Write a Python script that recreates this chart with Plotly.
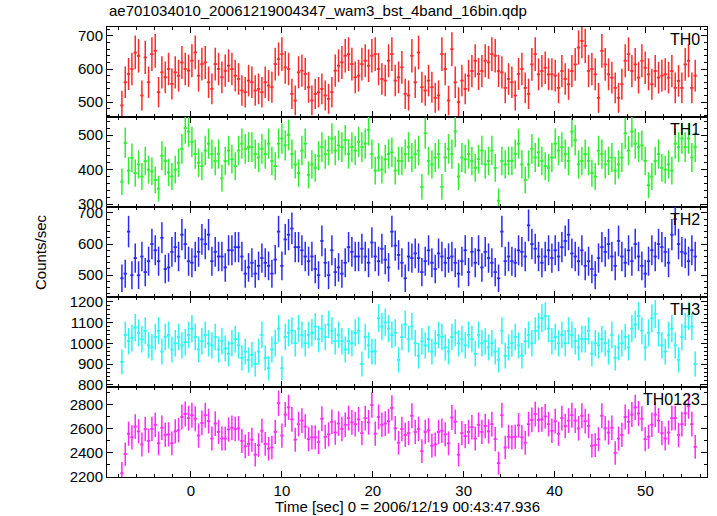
import numpy as np
import plotly.graph_objects as go
from plotly.subplots import make_subplots

# ---- data (count rate, counts/sec) ----
T_START = -7.60      # centre of first bin [s]
BIN = 0.3667         # bin width [s]

th0 = [490,560,585,600,650,640,520,635,560,645,
       655,530,590,575,600,555,590,580,620,600,
       595,625,650,580,615,620,560,540,615,600,
       575,595,610,600,580,570,535,530,565,560,
       535,540,530,560,550,545,615,630,645,605,
       600,525,505,590,595,585,545,505,525,530,
       540,520,510,530,595,610,620,640,645,615,
       575,580,615,625,610,640,645,600,570,565,
       625,645,565,575,
       605,525,520,640,560,650,545,535,565,545,
       513,520,645,600,505,660,560,500,565,540,
       580,594,625,585,594,625,620,645,640,594,
       590,543,570,560,520,585,600,543,525,614,
       645,584,594,604,584,584,580,543,594,570,
       554,594,614,665,685,670,594,600,584,513,
       655,614,584,574,543,513,554,625,645,594,
       614,574,625,604,584,554,594,574,580,584,
       574,594,543,564,543,614,625,543,580]

th1 = [365,477,397,434,390,415,380,425,400,395,
       370,345,440,425,392,380,400,420,460,520,
       510,480,445,420,410,455,475,445,425,445,
       375,425,455,430,410,455,475,460,465,465,
       445,435,460,445,475,425,410,475,490,470,
       500,445,415,390,455,475,385,415,405,440,
       465,445,455,490,455,470,465,485,445,465,
       455,480,465,475,515,445,397,435,400,430,
       445,450,397,425,
       425,445,465,435,445,455,350,505,425,415,
       435,445,350,435,460,445,510,380,435,430,
       445,425,405,430,455,415,425,455,405,310,
       425,415,425,425,445,475,415,370,415,460,
       435,450,425,410,405,435,475,455,465,445,
       425,510,485,415,425,445,425,390,380,455,
       445,415,425,435,397,415,435,505,455,510,
       475,465,470,425,355,380,425,445,405,400,
       415,397,475,465,490,465,490,435,465]

th2 = [490,505,640,500,555,500,560,510,545,600,
       580,545,620,520,525,575,590,560,630,600,
       545,540,560,575,615,600,630,545,575,560,
       560,525,580,580,590,590,560,505,525,540,
       505,530,555,540,530,505,550,640,530,615,
       630,650,590,590,580,560,545,560,520,500,
       610,540,500,580,510,525,505,540,590,575,
       560,560,585,560,540,605,560,545,585,550,
       525,640,595,565,
       540,490,560,555,570,555,510,545,580,540,
       520,570,560,540,555,560,540,505,545,580,
       510,575,540,580,525,575,555,540,510,490,
       640,545,560,545,540,580,575,560,660,600,
       585,560,540,560,580,555,580,560,590,610,
       630,570,560,545,580,530,545,520,500,555,
       590,575,600,560,530,610,560,540,580,545,
       600,560,530,505,545,580,560,600,590,575,
       540,630,680,600,575,570,545,580,560]

th3 = [910,1040,1010,1025,1075,1050,1020,1060,990,980,
       1030,1060,960,1030,1040,970,1000,1030,990,1005,
       1040,1070,1030,970,1010,1040,1000,990,1030,970,
       1010,975,950,1000,1020,990,930,960,920,945,
       900,960,1040,930,880,970,1000,1070,880,1030,
       1050,1060,1000,1070,1040,1000,1040,1050,1080,1020,
       1070,1030,1090,1060,1010,1040,1010,970,1010,1000,
       1050,1060,900,1030,990,960,960,1120,1080,1100,
       1070,1040,1050,920,
       1030,1090,1020,1080,1000,940,1010,990,1020,960,
       1000,1040,1030,980,960,1030,1050,1000,1020,990,
       1040,1020,950,1040,1000,1010,980,1000,960,920,
       1060,940,980,1000,1030,990,940,1010,1040,1000,
       1060,1080,1120,1130,1070,1010,1030,1000,1040,1000,
       1060,1040,1010,980,1020,1020,1060,950,1000,990,
       1020,1000,960,1040,930,980,1000,1030,980,1070,
       1090,1130,1060,980,1050,1120,1140,1050,990,960,
       1040,1070,990,920,1030,1080,1130,1080,900]

th0123 = [2230,2390,2560,2530,2620,2580,2470,2600,2500,2600,
          2635,2480,2610,2550,2555,2480,2580,2590,2700,2725,
          2690,2715,2685,2545,2650,2715,2665,2520,2645,2575,
          2520,2520,2595,2610,2600,2605,2500,2455,2475,2510,
          2385,2465,2585,2475,2435,2445,2575,2815,2545,2720,
          2780,2680,2510,2640,2670,2620,2515,2530,2530,2490,
          2685,2535,2555,2660,2570,2645,2600,2635,2690,2655,
          2640,2680,2565,2690,2655,2800,2560,2700,2635,2645,
          2665,2775,2605,2485,
          2600,2550,2565,2710,2575,2600,2415,2575,2590,2460,
          2470,2575,2585,2555,2480,2695,2660,2385,2565,2540,
          2575,2615,2520,2635,2575,2625,2580,2640,2515,2315,
          2715,2445,2535,2530,2535,2630,2530,2485,2640,2675,
          2725,2675,2680,2705,2640,2585,2665,2560,2690,2625,
          2670,2715,2670,2605,2710,2665,2625,2460,2465,2515,
          2710,2605,2570,2610,2400,2520,2550,2700,2660,2720,
          2780,2730,2685,2515,2535,2635,2720,2670,2565,2520,
          2570,2690,2690,2550,2640,2730,2790,2640,2450]

names = ["TH0", "TH1", "TH2", "TH3", "TH0123"]
series = [th0, th1, th2, th3, th0123]
colors = ["#ff2a2a", "#2ef02e", "#2a2aff", "#2af5f5", "#ff2aff"]
yranges = [[455, 727], [292, 552], [430, 719], [790, 1222], [2199, 2950]]
ydticks = [100, 100, 100, 100, 200]
yminor = [20, 20, 20, 20, 100]
X_RANGE = [-9.24, 56.77]

FONT = "Liberation Sans, Arial, Helvetica, sans-serif"

fig = make_subplots(rows=5, cols=1, shared_xaxes=True, vertical_spacing=0)

for i, (vals, col) in enumerate(zip(series, colors), start=1):
    v = np.array(vals, dtype=float)
    n = len(v)
    t = T_START + BIN * np.arange(n)
    err = np.sqrt(v / 0.25)
    fig.add_trace(go.Scatter(
        x=t, y=v, mode="markers",
        marker=dict(size=1, color=col),
        error_x=dict(type="data", array=np.full(n, BIN / 2), width=0, thickness=1.8, color=col),
        error_y=dict(type="data", array=err, width=0, thickness=1.5, color=col),
        hoverinfo="skip", showlegend=False,
    ), row=i, col=1)

for i in range(1, 6):
    fig.update_yaxes(
        row=i, col=1, range=yranges[i - 1], dtick=ydticks[i - 1], tick0=0,
        ticks="inside", ticklen=6, tickwidth=1, tickcolor="black",
        showline=True, linecolor="black", linewidth=1, mirror="allticks",
        showgrid=False, zeroline=False,
        minor=dict(dtick=yminor[i - 1], tick0=0, ticks="inside", ticklen=3,
                   tickwidth=1, tickcolor="black", showgrid=False),
        tickfont=dict(family=FONT, size=15, color="black"),
    )
    fig.update_xaxes(
        row=i, col=1, range=X_RANGE, dtick=10, tick0=0,
        ticks="inside", ticklen=6, tickwidth=1, tickcolor="black",
        showline=True, linecolor="black", linewidth=1, mirror="allticks",
        showgrid=False, zeroline=False,
        minor=dict(dtick=2, tick0=0, ticks="inside", ticklen=3,
                   tickwidth=1, tickcolor="black", showgrid=False),
        tickfont=dict(family=FONT, size=15, color="black"),
    )

annotations = []
for i, nm in enumerate(names, start=1):
    ax = "" if i == 1 else str(i)
    annotations.append(dict(
        text=nm, xref=f"x{ax} domain", yref=f"y{ax} domain",
        x=0.992, y=0.98, xanchor="right", yanchor="top", showarrow=False,
        font=dict(family=FONT, size=16, color="black")))

annotations.append(dict(
    text="ae701034010_20061219004347_wam3_bst_4band_16bin.qdp",
    xref="paper", yref="paper", x=0.0, y=1.0 + 17 / 450, xanchor="left", yanchor="middle",
    showarrow=False, font=dict(family=FONT, size=15, color="black")))
annotations.append(dict(
    text="Time [sec] 0 = 2006/12/19 00:43:47.936",
    xref="paper", yref="paper", x=0.5, y=-29 / 450, xanchor="center", yanchor="middle",
    showarrow=False, font=dict(family=FONT, size=15, color="black")))
annotations.append(dict(
    text="Counts/sec", textangle=-90,
    xref="paper", yref="paper", x=-67 / 600, y=0.5, xanchor="center", yanchor="middle",
    showarrow=False, font=dict(family=FONT, size=15, color="black")))

fig.update_layout(
    width=717, height=516,
    margin=dict(l=107, r=10, t=27, b=39),
    paper_bgcolor="white", plot_bgcolor="white",
    showlegend=False, annotations=annotations,
    font=dict(family=FONT, size=15, color="black"),
)

fig.write_html("out.html",
               config={"displayModeBar": False, "staticPlot": True},
               post_script="document.body.style.margin='0';document.body.style.padding='0';")
